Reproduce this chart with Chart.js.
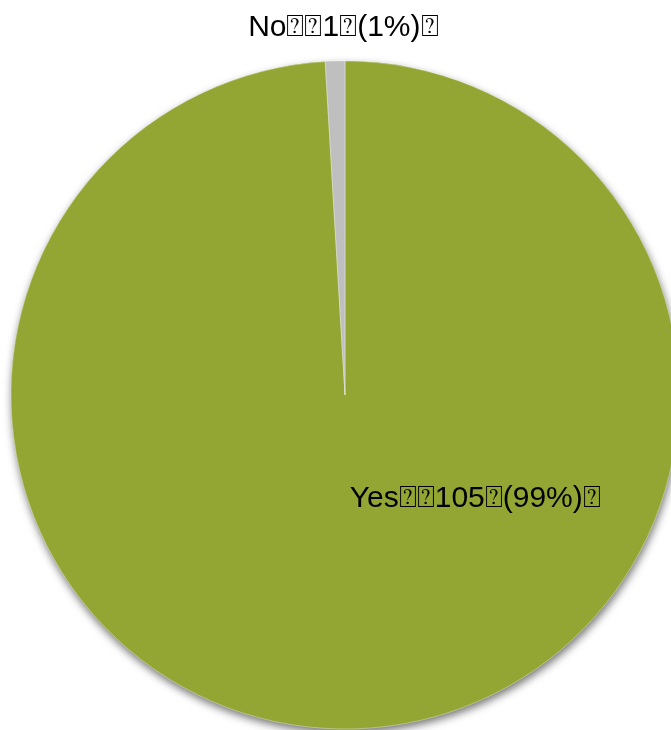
<!DOCTYPE html>
<html>
<head>
<meta charset="utf-8">
<title>Yes / No</title>
<script src="https://cdn.jsdelivr.net/npm/chart.js@4.4.1/dist/chart.umd.min.js"></script>
<style>
	html, body { margin: 0; padding: 0; background: #fff; overflow: hidden; }
	#answers_pie { position: absolute; left: 0; top: 0; }
</style>
</head>
<body>
<canvas id="answers_pie" width="690" height="790"></canvas>
<script>
var categories = ['Yes', 'No'];
var answerCounts = [105, 1];
var sliceColors = ['#93a532', '#bfbfbf'];
// label anchor per slice, as a fraction of the pie radius from the centre
var labelAnchors = [[0.39, 0.31], [-0.005, -1.10]];

function labelText(i) {
	var total = answerCounts.reduce(function (a, b) { return a + b; }, 0);
	var pct = Math.round(answerCounts[i] / total * 100);
	return categories[i] + '\u2370\u2370' + answerCounts[i] + '\u2370(' + pct + '%)\u2370';
}

var ctx = document.getElementById('answers_pie').getContext('2d');

window.answersChart = new Chart(ctx, {
	type: 'pie',
	data: {
		labels: categories,
		datasets: [{
			data: answerCounts,
			backgroundColor: sliceColors,
			borderColor: 'rgba(255,255,255,0.6)',
			borderWidth: 0.6,
			radius: 334
		}]
	},
	options: {
		responsive: false,
		animation: false,
		devicePixelRatio: 1,
		layout: { padding: 0 },
		plugins: {
			legend: { display: false },
			tooltip: { enabled: false }
		}
	},
	plugins: [{
		id: 'pieShadow',
		beforeDatasetsDraw: function (chart) {
			var arc = chart.getDatasetMeta(0).data[0];
			var c = chart.ctx;
			c.save();
			c.fillStyle = sliceColors[0];
			c.shadowColor = 'rgba(0,0,0,0.55)';
			c.shadowBlur = 8;
			c.shadowOffsetX = 1;
			c.shadowOffsetY = 4;
			c.beginPath();
			c.arc(arc.x, arc.y, arc.outerRadius, 0, Math.PI * 2);
			c.fill();
			c.restore();
		}
	}, {
		id: 'sliceLabels',
		afterDatasetsDraw: function (chart) {
			var meta = chart.getDatasetMeta(0);
			var c = chart.ctx;
			c.save();
			c.font = "30px 'Liberation Sans', 'DejaVu Sans', sans-serif";
			c.fillStyle = '#000';
			c.textAlign = 'center';
			c.textBaseline = 'middle';
			meta.data.forEach(function (arc, i) {
				var x = arc.x + labelAnchors[i][0] * arc.outerRadius;
				var y = arc.y + labelAnchors[i][1] * arc.outerRadius;
				c.fillText(labelText(i), x, y);
			});
			c.restore();
		}
	}]
});
</script>
</body>
</html>
